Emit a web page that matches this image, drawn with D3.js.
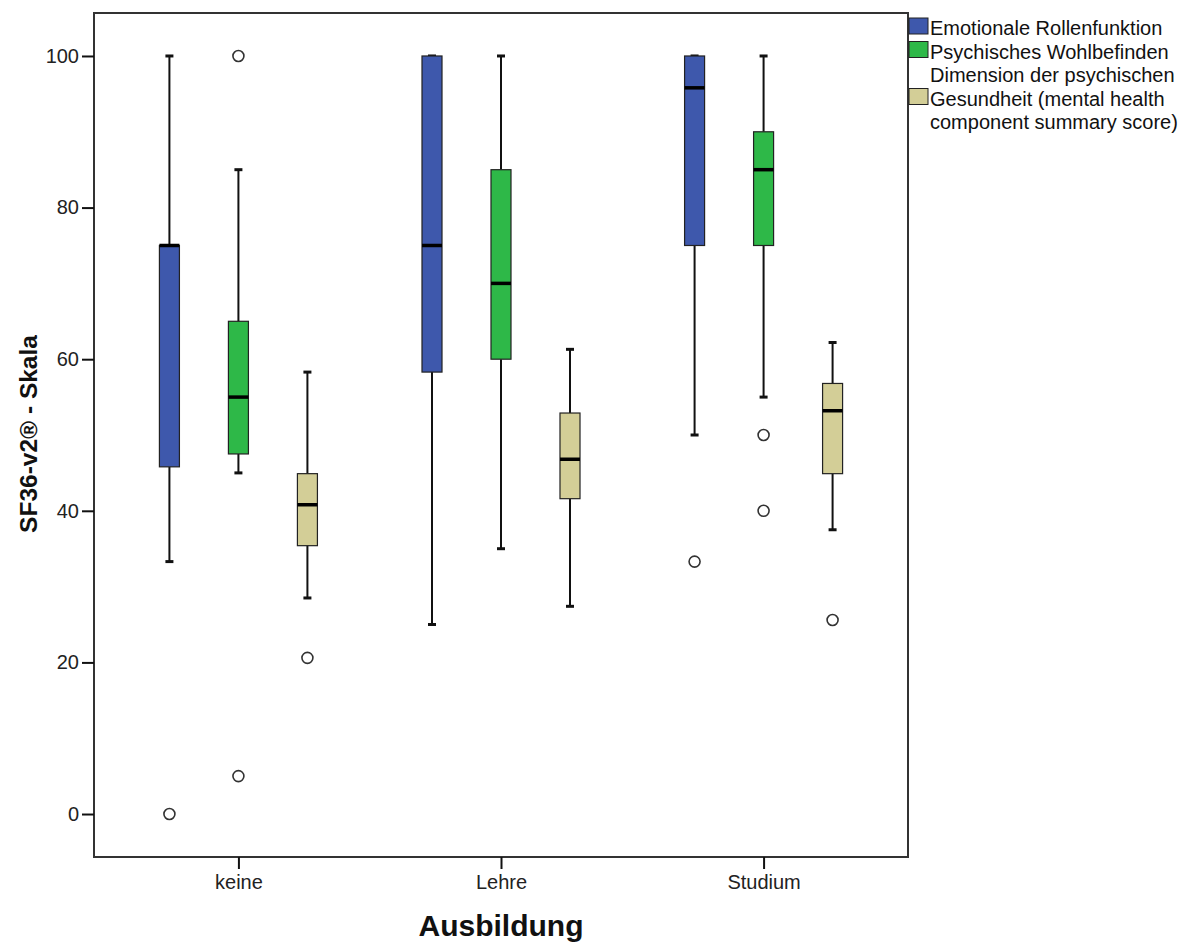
<!DOCTYPE html>
<html>
<head>
<meta charset="utf-8">
<script src="https://cdn.jsdelivr.net/npm/d3@7"></script>
<style>
  html, body { margin: 0; padding: 0; background: #fff; }
  svg { display: block; font-family: "Liberation Sans", Arial, sans-serif; }
</style>
</head>
<body>
<svg id="chart" width="1199" height="942"></svg>
<script>
// Education groups on the x axis
const categories = ["keine", "Lehre", "Studium"];

// Series shown side by side within each group
const seriesNames = ["Emotionale Rollenfunktion", "Psychisches Wohlbefinden", "Dimension der psychischen Gesundheit (mental health component summary score)"];
const seriesColors = ["#3E58AC", "#2EB848", "#D3CE97"];

// Box statistics per group: [lower whisker, Q1, median, Q3, upper whisker]
const emotionalStats = [
  [33.3, 45.8, 75, 75, 100],
  [25, 58.3, 75, 100, 100],
  [50, 75, 95.8, 100, 100]
];
const wellbeingStats = [
  [45, 47.5, 55, 65, 85],
  [35, 60, 70, 85, 100],
  [55, 75, 85, 90, 100]
];
const mcsStats = [
  [28.5, 35.4, 40.8, 44.9, 58.3],
  [27.4, 41.6, 46.8, 52.9, 61.3],
  [37.5, 44.9, 53.2, 56.8, 62.2]
];

// Outliers per group
const emotionalOutliers = [[0], [], [33.3]];
const wellbeingOutliers = [[100, 5], [], [50, 40]];
const mcsOutliers = [[20.6], [], [25.6]];

const yTicks = [0, 20, 40, 60, 80, 100];

const statsBySeries = [emotionalStats, wellbeingStats, mcsStats];
const outliersBySeries = [emotionalOutliers, wellbeingOutliers, mcsOutliers];

// Legend text, wrapped into lines; swatch sits on the given line
const legendLines = [
  ["Emotionale Rollenfunktion"],
  ["Psychisches Wohlbefinden"],
  ["Dimension der psychischen", "Gesundheit (mental health", "component summary score)"]
];
const legendSwatchLine = [0, 0, 1];

const plot = { left: 94, right: 908, top: 13, bottom: 857 };
const font = "Liberation Sans, Arial, sans-serif";

const svg = d3.select("#chart");

const x = d3.scalePoint()
  .domain(categories)
  .range([plot.left, plot.right])
  .padding(0.55);

const xInner = d3.scaleBand()
  .domain(seriesNames)
  .range([-103.5, 103.5])
  .paddingInner(0.71)
  .paddingOuter(0.355);

const y = d3.scaleLinear()
  .domain([-5.67, 105.67])
  .range([plot.bottom, plot.top]);

// Frame
svg.append("rect")
  .attr("x", plot.left).attr("y", plot.top)
  .attr("width", plot.right - plot.left)
  .attr("height", plot.bottom - plot.top)
  .attr("fill", "none")
  .attr("stroke", "#333")
  .attr("stroke-width", 2);

// Y axis
const yAxis = svg.append("g")
  .attr("transform", `translate(${plot.left},0)`)
  .call(d3.axisLeft(y).tickValues(yTicks).tickSize(12).tickPadding(3).tickFormat(d3.format("d")));
yAxis.select(".domain").remove();
yAxis.selectAll(".tick line").attr("stroke", "#111").attr("stroke-width", 2);
yAxis.selectAll(".tick text")
  .attr("font-size", 20)
  .attr("fill", "#222")
  .attr("font-family", font);

// X axis
const xAxis = svg.append("g")
  .attr("transform", `translate(0,${plot.bottom})`)
  .call(d3.axisBottom(x).tickSize(12).tickPadding(6));
xAxis.select(".domain").remove();
xAxis.selectAll(".tick line").attr("stroke", "#111").attr("stroke-width", 2);
xAxis.selectAll(".tick text")
  .attr("font-size", 20)
  .attr("fill", "#222")
  .attr("font-family", font);

// Axis titles
svg.append("text")
  .attr("x", (plot.left + plot.right) / 2)
  .attr("y", 936)
  .attr("text-anchor", "middle")
  .attr("font-size", 30)
  .attr("font-weight", "bold")
  .attr("fill", "#111")
  .text("Ausbildung");

svg.append("text")
  .attr("transform", `translate(37,434) rotate(-90)`)
  .attr("text-anchor", "middle")
  .attr("font-size", 24.5)
  .attr("font-weight", "bold")
  .attr("fill", "#111")
  .text("SF36-v2® - Skala");

// Boxes
const boxW = xInner.bandwidth();
const capW = 8;

seriesNames.forEach((name, si) => {
  const g = svg.append("g");
  categories.forEach((cat, ci) => {
    const [lo, q1, med, q3, hi] = statsBySeries[si][ci];
    const cx = x(cat) + xInner(name) + boxW / 2;

    // whiskers
    g.append("line")
      .attr("x1", cx).attr("x2", cx)
      .attr("y1", y(hi)).attr("y2", y(q3))
      .attr("stroke", "#111").attr("stroke-width", 2);
    g.append("line")
      .attr("x1", cx).attr("x2", cx)
      .attr("y1", y(q1)).attr("y2", y(lo))
      .attr("stroke", "#111").attr("stroke-width", 2);
    // caps
    [lo, hi].forEach(v => {
      g.append("line")
        .attr("x1", cx - capW / 2).attr("x2", cx + capW / 2)
        .attr("y1", y(v)).attr("y2", y(v))
        .attr("stroke", "#111").attr("stroke-width", 3);
    });

    // box
    g.append("rect")
      .attr("x", cx - boxW / 2)
      .attr("y", y(q3))
      .attr("width", boxW)
      .attr("height", y(q1) - y(q3))
      .attr("fill", seriesColors[si])
      .attr("stroke", "#222")
      .attr("stroke-width", 1.2);

    // median
    g.append("line")
      .attr("x1", cx - boxW / 2).attr("x2", cx + boxW / 2)
      .attr("y1", y(med)).attr("y2", y(med))
      .attr("stroke", "#000").attr("stroke-width", 3.5);

    // outliers
    outliersBySeries[si][ci].forEach(v => {
      g.append("circle")
        .attr("cx", cx).attr("cy", y(v))
        .attr("r", 5.5)
        .attr("fill", "#fff")
        .attr("stroke", "#333")
        .attr("stroke-width", 1.6);
    });
  });
});

// Legend
const legend = svg.append("g").attr("transform", "translate(908,0)");
const lineH = 23.5;
const firstBaseline = 35;
let row = 0;
legendLines.forEach((lines, si) => {
  const swatchRow = row + legendSwatchLine[si];
  const rowCenter = firstBaseline + swatchRow * lineH - 7;
  legend.append("rect")
    .attr("x", 1).attr("y", rowCenter - 2 - 8)
    .attr("width", 19).attr("height", 16)
    .attr("fill", seriesColors[si])
    .attr("stroke", "#222")
    .attr("stroke-width", 1);
  lines.forEach((t, li) => {
    legend.append("text")
      .attr("x", 22)
      .attr("y", firstBaseline + (row + li) * lineH)
      .attr("font-size", 20)
      .attr("fill", "#111")
      .text(t);
  });
  row += lines.length;
});
</script>
</body>
</html>
